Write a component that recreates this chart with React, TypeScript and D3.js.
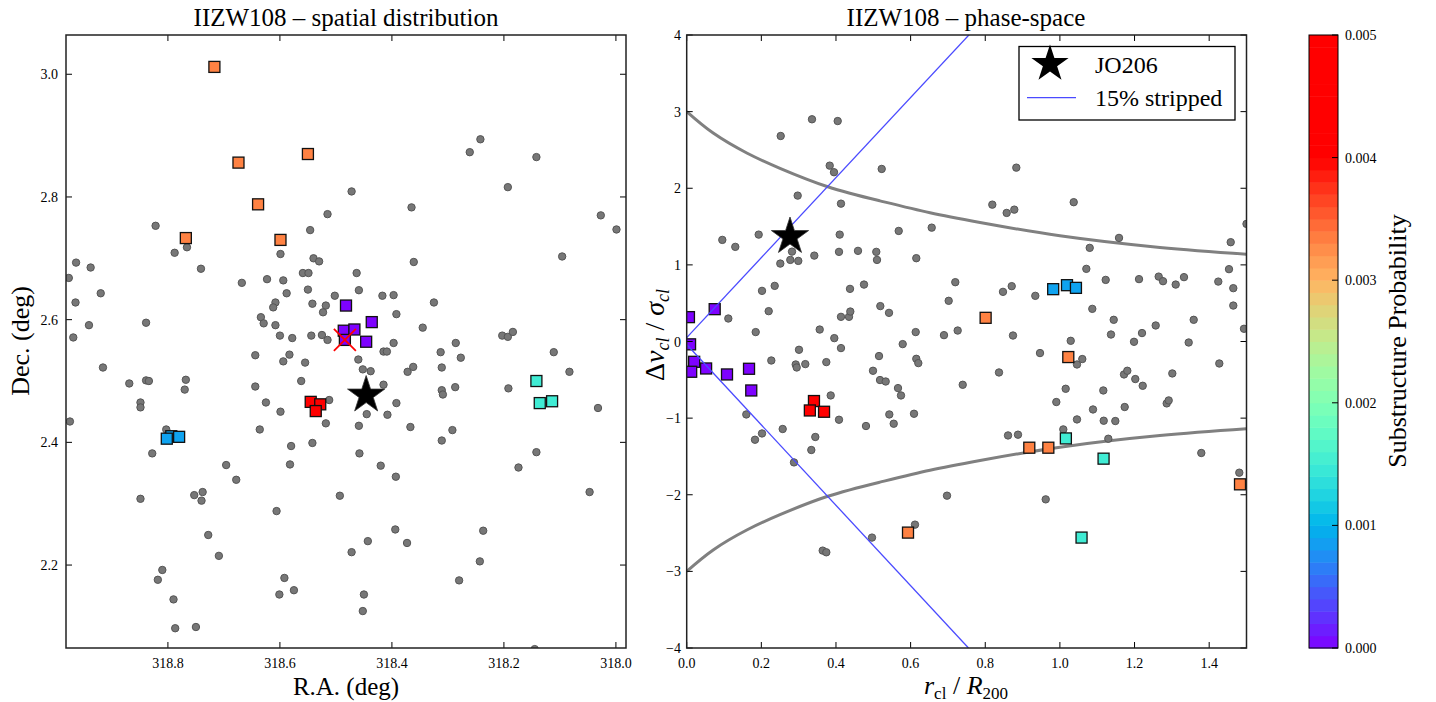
import React from "react";
import * as d3 from "d3";

// ---------- DATA ----------
// Left panel: cluster members (R.A., Dec.)
const spatialGray: [number, number][] = [
  [318.472,2.809],[318.515,2.772],[318.546,2.746],[318.822,2.753],[318.788,2.709],[318.766,2.718],[318.741,2.683],[318.599,2.707],[318.540,2.700],[318.530,2.695],[318.559,2.676],[318.549,2.676],[318.463,2.676],[318.964,2.693],[318.938,2.685],[318.977,2.668],[318.920,2.643],[318.965,2.628],[318.941,2.591],[318.969,2.571],[318.839,2.595],[318.668,2.660],[318.623,2.666],[318.594,2.664],[318.588,2.643],[318.550,2.649],[318.459,2.648],[318.502,2.639],[318.608,2.628],[318.612,2.620],[318.542,2.626],[318.518,2.623],[318.523,2.612],[318.634,2.604],[318.629,2.594],[318.608,2.591],[318.600,2.574],[318.578,2.570],[318.544,2.574],[318.525,2.575],[318.515,2.567],[318.242,2.894],[318.261,2.873],[318.142,2.865],[318.193,2.816],[318.365,2.783],[318.027,2.770],[317.999,2.747],[318.361,2.694],[318.096,2.703],[318.417,2.639],[318.397,2.640],[318.325,2.628],[318.392,2.609],[318.345,2.587],[318.203,2.574],[318.193,2.572],[318.184,2.580],[318.397,2.562],[318.286,2.562],[318.415,2.548],[318.409,2.548],[318.313,2.547],[318.111,2.547],[318.916,2.522],[318.644,2.542],[318.583,2.543],[318.594,2.532],[318.555,2.530],[318.460,2.535],[318.869,2.496],[318.839,2.501],[318.834,2.500],[318.768,2.502],[318.770,2.486],[318.644,2.491],[318.562,2.500],[318.849,2.465],[318.849,2.457],[318.625,2.465],[318.599,2.450],[318.512,2.469],[318.975,2.434],[318.803,2.421],[318.636,2.421],[318.518,2.431],[318.459,2.427],[318.580,2.394],[318.542,2.399],[318.828,2.382],[318.458,2.382],[318.696,2.363],[318.582,2.364],[318.678,2.339],[318.753,2.314],[318.738,2.319],[318.740,2.305],[318.849,2.308],[318.493,2.313],[318.606,2.288],[318.728,2.249],[318.709,2.215],[318.472,2.221],[318.810,2.192],[318.818,2.176],[318.592,2.179],[318.575,2.159],[318.601,2.152],[318.790,2.144],[318.787,2.097],[318.750,2.099],[318.277,2.538],[318.452,2.519],[318.438,2.516],[318.372,2.515],[318.362,2.523],[318.311,2.522],[318.083,2.515],[318.415,2.494],[318.311,2.485],[318.309,2.478],[318.287,2.490],[318.192,2.488],[318.392,2.464],[318.445,2.446],[318.408,2.445],[318.032,2.456],[318.367,2.425],[318.292,2.420],[318.311,2.403],[318.142,2.384],[318.420,2.362],[318.393,2.344],[318.174,2.359],[318.047,2.319],[318.394,2.258],[318.237,2.256],[318.443,2.239],[318.373,2.236],[318.243,2.206],[318.280,2.175],[318.450,2.152],[318.452,2.125],[318.145,2.063]
];

// Substructure members: [R.A., Dec., probability]
const spatialSub: [number, number, number][] = [
  [318.717,3.012,0.00332],[318.674,2.856,0.00332],[318.550,2.870,0.00332],[318.639,2.788,0.00332],[318.768,2.733,0.00332],[318.599,2.730,0.00332],
  [318.482,2.623,0.00001],[318.486,2.582,0.00001],[318.467,2.584,0.00001],[318.436,2.596,0.00001],[318.446,2.564,0.00001],[318.484,2.567,0.00001],
  [318.545,2.466,0.0045],[318.528,2.462,0.0045],[318.536,2.451,0.0045],
  [318.794,2.410,0.00088],[318.780,2.409,0.00088],[318.802,2.406,0.00088],
  [318.142,2.500,0.0015],[318.136,2.464,0.0015],[318.114,2.467,0.0015]
];
const jo206Spatial: [number, number] = [318.446, 2.477];
const bcgSpatial: [number, number] = [318.484, 2.567];

// Right panel: [r/R200, dv/sigma]
const phaseGray: [number, number][] = [
  [0.3357,2.900],[0.4046,2.877],[0.2519,2.682],[0.3832,2.295],[0.3947,2.209],[0.5225,2.252],[0.2974,1.904],[0.4134,1.799],[0.5681,1.443],[0.6565,1.486],[0.0954,1.326],[0.1302,1.235],[0.1929,1.395],[0.4100,1.395],[0.2822,1.173],[0.2776,1.065],[0.2990,1.052],[0.2508,1.017],[0.3419,1.121],[0.4081,1.170],[0.4590,1.183],[0.5080,1.170],[0.5099,1.065],[0.6152,1.087],[0.2018,0.661],[0.2358,0.726],[0.4376,0.687],[0.4751,0.743],[0.7197,0.774],[0.7020,0.531],[0.5188,0.462],[0.5421,0.374],[0.2197,0.396],[0.1115,0.300],[0.4134,0.322],[0.4349,0.322],[0.4384,0.391],[0.1849,0.123],[0.3564,0.156],[0.3955,0.044],[0.5788,-0.034],[0.6136,0.123],[0.6894,0.083],[0.7261,0.143],[0.3009,-0.108],[0.4134,-0.086],
  [0.8832,2.269],[0.8189,1.786],[0.8574,1.678],[0.8778,1.721],[1.0370,1.818],[1.1584,1.352],[1.0799,1.222],[1.4577,1.296],[1.5000,1.535],[1.0708,0.948],[1.1227,0.804],[1.2120,0.814],[1.2647,0.847],[1.2763,0.787],[1.3103,0.743],[1.3325,0.840],[1.4244,0.782],[1.4531,0.944],[1.4646,0.696],[1.4646,0.469],[1.4933,0.166],[0.8475,0.648],[0.8709,0.722],[0.9341,0.596],[1.0868,0.426],[1.1442,0.283],[1.2567,0.209],[1.3585,0.283],[0.8743,0.078],[1.0290,0.009],[1.1369,0.091],[1.2200,0.110],[1.1986,-0.004],[1.3451,-0.013],
  [0.5153,-0.190],[0.2267,-0.248],[0.2921,-0.300],[0.2948,-0.339],[0.3178,-0.295],[0.3741,-0.269],[0.6152,-0.226],[0.6206,-0.282],[0.4992,-0.382],[0.5180,-0.503],[0.5332,-0.522],[0.5662,-0.608],[0.5742,-0.704],[0.7396,-0.565],[0.3859,-0.704],[0.1597,-0.952],[0.5429,-0.952],[0.6091,-0.943],[0.4081,-1.021],[0.4804,-1.103],[0.5547,-1.073],[0.2572,-1.142],[0.2018,-1.200],[0.1830,-1.282],[0.3446,-1.246],[0.3339,-1.416],[0.2875,-1.578],[0.6975,-2.012],[0.6117,-2.390],[0.4965,-2.559],[0.3644,-2.729],[0.3741,-2.751],
  [0.9467,-0.151],[0.8368,-0.404],[1.0458,-0.300],[1.0600,-0.229],[1.4271,-0.287],[1.1718,-0.430],[1.1806,-0.382],[1.2020,-0.490],[1.2219,-0.578],[1.3012,-0.417],[1.0155,-0.617],[1.1163,-0.639],[0.9904,-0.790],[1.0887,-0.887],[1.1736,-0.855],[1.2862,-0.808],[1.2915,-0.769],[1.0458,-1.017],[1.1174,-1.034],[1.1485,-1.038],[1.0091,-1.147],[0.8610,-1.226],[0.8877,-1.216],[1.1297,-1.269],[1.3789,-1.455],[1.4807,-1.712],[0.9620,-2.060]
];

// Substructure members in phase-space: [r, dv, probability]
const phaseSub: [number, number, number][] = [
  [0.075,0.422,0.00001],[0.006,0.318,0.00001],[0.009,-0.037,0.00001],[0.020,-0.265,0.00001],[0.012,-0.395,0.00001],[0.052,-0.352,0.00001],[0.108,-0.430,0.00001],[0.167,-0.356,0.00001],[0.173,-0.639,0.00001],
  [0.341,-0.777,0.0045],[0.330,-0.900,0.0045],[0.368,-0.917,0.0045],
  [0.801,0.309,0.00332],[0.593,-2.494,0.00332],[1.0225,-0.203,0.00332],[0.918,-1.386,0.00332],[0.969,-1.386,0.00332],[1.4826,-1.864,0.00332],
  [0.982,0.683,0.00088],[1.019,0.735,0.00088],[1.043,0.700,0.00088],
  [1.016,-1.265,0.0015],[1.117,-1.529,0.0015],[1.058,-2.559,0.0015]
];
const jo206Phase: [number, number] = [0.2768, 1.369];

// Escape-velocity caustic (upper branch; lower branch is its mirror)
const causticR = [0, 0.071, 0.161, 0.25, 0.378, 0.518, 0.652, 0.786, 1.0, 1.268, 1.5];
const causticV = [3.0, 2.72, 2.46, 2.26, 2.02, 1.835, 1.68, 1.553, 1.38, 1.228, 1.14];

// 15% stripped line
const strippedUpperR = [0, 0.76];
const strippedUpperV = [0.05, 4.02];
const strippedLowerR = [0, 0.755];
const strippedLowerV = [-0.04, -4.0];

const raTicks = [318.8, 318.6, 318.4, 318.2, 318.0];
const decTicks = [2.2, 2.4, 2.6, 2.8, 3.0];
const rTicks = [0, 0.2, 0.4, 0.6, 0.8, 1.0, 1.2, 1.4];
const vTicks = [-4, -3, -2, -1, 0, 1, 2, 3, 4];
const cbTicks = [0, 0.001, 0.002, 0.003, 0.004, 0.005];
const cbMax = 0.005;
const cbColorTop = 0.004;
const cbLevels = 50;

// ---------- HELPERS ----------
function rainbow(t: number): string {
  const x = Math.max(0, Math.min(1, t));
  const r = Math.min(1, Math.abs(2 * x - 0.5));
  const g = Math.sin(Math.PI * x);
  const b = Math.cos((Math.PI * x) / 2);
  return d3.rgb(r * 255, g * 255, b * 255).formatHex();
}
const probColor = (p: number) => rainbow(p / cbColorTop);

const FONT = "'Liberation Serif', 'DejaVu Serif', serif";
const TICK = 6;

const L = { x0: 66, x1: 626, y0: 35, y1: 648 };
const R = { x0: 686.7, x1: 1246.5, y0: 35, y1: 648 };
const CB = { x0: 1309, x1: 1338, y0: 35, y1: 648 };

const xL = d3.scaleLinear().domain([318.982, 317.982]).range([L.x0, L.x1]);
const yL = d3.scaleLinear().domain([2.0648, 3.064]).range([L.y1, L.y0]);
const xR = d3.scaleLinear().domain([0, 1.5]).range([R.x0, R.x1]);
const yR = d3.scaleLinear().domain([-4, 4]).range([R.y1, R.y0]);
const yCB = d3.scaleLinear().domain([0, cbMax]).range([CB.y1, CB.y0]);

const starPath = d3.symbol(d3.symbolStar, 430)()!;

function Frame({ b, xt, yt, xs, ys }: any) {
  return (
    <g>
      {xt.map((t: number, i: number) => (
        <g key={"x" + i}>
          <line x1={xs(t)} x2={xs(t)} y1={b.y1} y2={b.y1 - TICK} stroke="#000" strokeWidth={1} />
          <line x1={xs(t)} x2={xs(t)} y1={b.y0} y2={b.y0 + TICK} stroke="#000" strokeWidth={1} />
        </g>
      ))}
      {yt.map((t: number, i: number) => (
        <g key={"y" + i}>
          <line x1={b.x0} x2={b.x0 + TICK} y1={ys(t)} y2={ys(t)} stroke="#000" strokeWidth={1} />
          <line x1={b.x1} x2={b.x1 - TICK} y1={ys(t)} y2={ys(t)} stroke="#000" strokeWidth={1} />
        </g>
      ))}
      <rect x={b.x0} y={b.y0} width={b.x1 - b.x0} height={b.y1 - b.y0} fill="none" stroke="#222" strokeWidth={1.5} />
    </g>
  );
}

function Square({ x, y, fill }: { x: number; y: number; fill: string }) {
  const s = 11;
  return <rect x={x - s / 2} y={y - s / 2} width={s} height={s} fill={fill} stroke="#111" strokeWidth={1.3} />;
}

export default function App() {
  const causticUp = d3
    .line<number>()
    .x((_, i) => xR(causticR[i]))
    .y((v) => yR(v))
    .curve(d3.curveNatural)(causticV)!;
  const causticDown = d3
    .line<number>()
    .x((_, i) => xR(causticR[i]))
    .y((v) => yR(-v))
    .curve(d3.curveNatural)(causticV)!;
  const lineGen = (rs: number[], vs: number[]) =>
    d3.line<number>().x((_, i) => xR(rs[i])).y((v) => yR(v))(vs)!;

  const bandH = cbMax / cbLevels;
  const bands = d3.range(cbLevels).map((i) => ({
    lo: i * bandH,
    hi: (i + 1) * bandH,
    color: probColor((i + 0.5) * bandH),
  }));

  return (
    <svg width={1436} height={702} style={{ position: "absolute", left: 0, top: 0, background: "#fff" }} fontFamily={FONT}>
      <defs>
        <clipPath id="clipL">
          <rect x={L.x0} y={L.y0} width={L.x1 - L.x0} height={L.y1 - L.y0} />
        </clipPath>
        <clipPath id="clipR">
          <rect x={R.x0} y={R.y0} width={R.x1 - R.x0} height={R.y1 - R.y0} />
        </clipPath>
      </defs>
      <rect x={0} y={0} width={1436} height={702} fill="#fff" />

      {/* ---------- LEFT PANEL ---------- */}
      <g clipPath="url(#clipL)">
        {spatialGray.map((d, i) => (
          <circle key={i} cx={xL(d[0])} cy={yL(d[1])} r={3.7} fill="#777" stroke="#555" strokeWidth={1} />
        ))}
        {spatialSub.map((d, i) => (
          <Square key={i} x={xL(d[0])} y={yL(d[1])} fill={probColor(d[2])} />
        ))}
        <path d={starPath} transform={`translate(${xL(jo206Spatial[0])},${yL(jo206Spatial[1])})`} fill="#000" stroke="#333" strokeWidth={0.8} />
        <g stroke="#ff0000" strokeWidth={1.8}>
          <line x1={xL(bcgSpatial[0]) - 11} x2={xL(bcgSpatial[0]) + 11} y1={yL(bcgSpatial[1]) - 11} y2={yL(bcgSpatial[1]) + 11} />
          <line x1={xL(bcgSpatial[0]) - 11} x2={xL(bcgSpatial[0]) + 11} y1={yL(bcgSpatial[1]) + 11} y2={yL(bcgSpatial[1]) - 11} />
        </g>
      </g>
      <Frame b={L} xt={raTicks} yt={decTicks} xs={xL} ys={yL} />
      {raTicks.map((t, i) => (
        <text key={i} x={xL(t)} y={668} fontSize={14} textAnchor="middle">{t.toFixed(1)}</text>
      ))}
      {decTicks.map((t, i) => (
        <text key={i} x={58} y={yL(t) + 5} fontSize={14} textAnchor="end">{t.toFixed(1)}</text>
      ))}
      <text x={346} y={26} fontSize={25} textAnchor="middle">IIZW108 – spatial distribution</text>
      <text x={346} y={695} fontSize={25} textAnchor="middle">R.A. (deg)</text>
      <text transform={`translate(29,341) rotate(-90)`} fontSize={26} textAnchor="middle">Dec. (deg)</text>

      {/* ---------- RIGHT PANEL ---------- */}
      <g clipPath="url(#clipR)">
        <path d={causticUp} fill="none" stroke="#808080" strokeWidth={3} />
        <path d={causticDown} fill="none" stroke="#808080" strokeWidth={3} />
        {phaseGray.map((d, i) => (
          <circle key={i} cx={xR(d[0])} cy={yR(d[1])} r={3.7} fill="#777" stroke="#555" strokeWidth={1} />
        ))}
        {phaseSub.map((d, i) => (
          <Square key={i} x={xR(d[0])} y={yR(d[1])} fill={probColor(d[2])} />
        ))}
        <path d={lineGen(strippedUpperR, strippedUpperV)} fill="none" stroke="#4a4aff" strokeWidth={1.3} />
        <path d={lineGen(strippedLowerR, strippedLowerV)} fill="none" stroke="#4a4aff" strokeWidth={1.3} />
        <path d={starPath} transform={`translate(${xR(jo206Phase[0])},${yR(jo206Phase[1])})`} fill="#000" stroke="#333" strokeWidth={0.8} />
      </g>
      <Frame b={R} xt={rTicks} yt={vTicks} xs={xR} ys={yR} />
      {rTicks.map((t, i) => (
        <text key={i} x={xR(t)} y={668} fontSize={14} textAnchor="middle">{t.toFixed(1)}</text>
      ))}
      {vTicks.map((t, i) => (
        <text key={i} x={681} y={yR(t) + 5} fontSize={14} textAnchor="end">{t < 0 ? "\u2212" + Math.abs(t) : String(t)}</text>
      ))}
      <text x={966} y={26} fontSize={25} textAnchor="middle">IIZW108 – phase-space</text>
      <text x={966} y={694} fontSize={26} textAnchor="middle">
        <tspan fontStyle="italic">r</tspan>
        <tspan fontSize={17} dy={5}>cl</tspan>
        <tspan dy={-5}> / </tspan>
        <tspan fontStyle="italic">R</tspan>
        <tspan fontSize={17} dy={5}>200</tspan>
      </text>
      <text transform={`translate(664,335) rotate(-90)`} fontSize={28} textAnchor="middle">
        <tspan>Δ</tspan>
        <tspan fontStyle="italic">v</tspan>
        <tspan fontSize={18} fontStyle="italic" dy={5}>cl</tspan>
        <tspan dy={-5}> / </tspan>
        <tspan fontStyle="italic">σ</tspan>
        <tspan fontSize={18} fontStyle="italic" dy={5}>cl</tspan>
      </text>

      {/* legend */}
      <rect x={1019} y={46.5} width={216} height={73.5} fill="#fff" stroke="#000" strokeWidth={1.3} />
      <path d={starPath} transform="translate(1050,64)" fill="#000" />
      <text x={1095} y={73} fontSize={24}>JO206</text>
      <line x1={1027} x2={1076} y1={97.7} y2={97.7} stroke="#4a4aff" strokeWidth={1.3} />
      <text x={1095} y={106} fontSize={24}>15% stripped</text>

      {/* ---------- COLORBAR ---------- */}
      {bands.map((b, i) => (
        <rect key={i} x={CB.x0} y={yCB(b.hi)} width={CB.x1 - CB.x0} height={yCB(b.lo) - yCB(b.hi) + 0.5} fill={b.color} />
      ))}
      <rect x={CB.x0} y={CB.y0} width={CB.x1 - CB.x0} height={CB.y1 - CB.y0} fill="none" stroke="#000" strokeWidth={1} />
      {cbTicks.map((t, i) => (
        <g key={i}>
          <line x1={CB.x1} x2={CB.x1 - TICK} y1={yCB(t)} y2={yCB(t)} stroke="#000" strokeWidth={1} />
          <text x={1345} y={yCB(t) + 5} fontSize={14}>{t.toFixed(3)}</text>
        </g>
      ))}
      <text transform={`translate(1406,341) rotate(-90)`} fontSize={26} textAnchor="middle">Substructure Probability</text>
    </svg>
  );
}
